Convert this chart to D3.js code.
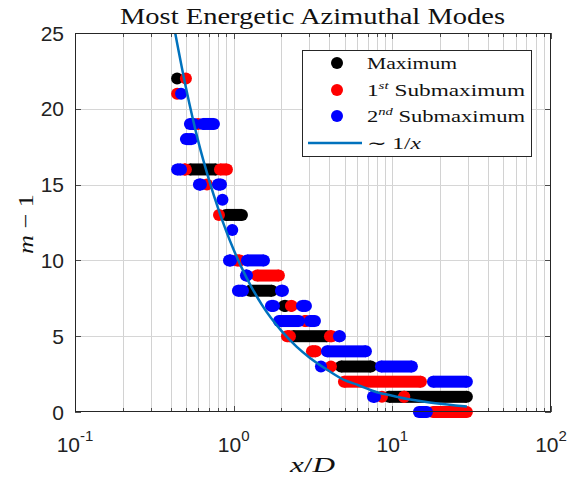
<!DOCTYPE html>
<html><head><meta charset="utf-8">
<script src="https://cdn.jsdelivr.net/npm/d3@7"></script>
<style>body{margin:0;background:#fff}svg{display:block}</style>
</head><body>
<svg id="chart" width="570" height="485"></svg>
<script>
// ---- data ----
// each segment: [m-1, xStart, xEnd] — runs of densely packed markers
const seriesNames = ["Maximum", "1st Submaximum", "2nd Submaximum"];
const maximumSegs = [
  [22, 0.44, 0.44], [16, 0.53, 0.774], [13, 0.894, 1.128], [8, 1.267, 1.743],
  [7, 2.074, 2.136], [5, 2.364, 3.872], [3, 4.745, 7.331], [1, 9.52, 29.5]
];
const submax1Segs = [
  [22, 0.50, 0.50], [21, 0.44, 0.44], [19, 0.596, 0.596], [16, 0.486, 0.50], [16, 0.82, 0.907],
  [15, 0.679, 0.679], [13, 0.808, 0.808], [10, 1.049, 1.096], [9, 1.402, 1.929],
  [7, 2.296, 2.33], [6, 2.813, 2.855], [5, 2.167, 2.263], [5, 4.044, 4.163],
  [4, 3.114, 3.301], [3, 4.103, 4.103], [2, 4.955, 15.15], [1, 8.6, 8.6], [1, 11.83, 11.9],
  [0, 18.03, 29.5]
];
const submax2Segs = [
  [21, 0.466, 0.466], [19, 0.53, 0.562], [19, 0.64, 0.751], [18, 0.50, 0.546],
  [16, 0.44, 0.466], [15, 0.604, 0.622], [15, 0.796, 0.832], [14, 0.85, 0.85],
  [12, 0.98, 0.98], [10, 0.934, 0.962], [10, 1.213, 1.552], [9, 1.195, 1.213],
  [8, 1.064, 1.144], [8, 1.987, 2.045], [7, 1.718, 1.795], [7, 2.694, 2.855],
  [6, 1.929, 2.579], [6, 3.026, 3.253], [5, 4.609, 4.676], [4, 3.872, 6.818],
  [3, 3.549, 3.549], [3, 8.477, 13.29], [2, 18.03, 29.5], [1, 7.545, 7.77],
  [0, 14.71, 16.52]
];
// ~1/x reference curve, read points
const curveX = [0.428, 0.5, 0.6, 0.7, 0.8, 0.9, 1, 1.2, 1.5, 2, 2.5, 3, 4, 5, 6, 8, 10, 13, 16, 20, 25, 29.5];
const curveY = [25, 21.4, 17.8, 15.3, 13.4, 11.9, 10.7, 8.9, 7.1, 5.35, 4.3, 3.6, 2.7, 2.1, 1.8, 1.3, 1.07, 0.82, 0.67, 0.54, 0.43, 0.36];
const xTickExps = [-1, 0, 1, 2];
const yTicks = [0, 5, 10, 15, 20, 25];
const colors = ["#000000", "#ff0000", "#0000ff"];
const lineColor = "#0072BD";

// ---- layout ----
const L = 75, R = 551, T = 33, B = 412;
const svg = d3.select("#chart");
const x = d3.scaleLog().domain([0.1, 100]).range([L, R]);
const y = d3.scaleLinear().domain([0, 25]).range([B, T]);
const sans = "'Liberation Sans', Arial, Helvetica, sans-serif";
const serif = "'Liberation Serif', 'Times New Roman', serif";
const axisColor = "#262626";

// minor positions
const minorVals = [];
for (let e = -1; e <= 1; e++) for (let k = 1; k <= 9; k++) minorVals.push(k * Math.pow(10, e));
minorVals.push(100);

// grid
const grid = svg.append("g");
grid.selectAll("line.v").data(minorVals.filter(v => v > 0.1 && v < 100)).join("line")
  .attr("x1", d => Math.round(x(d)) + 0.5).attr("x2", d => Math.round(x(d)) + 0.5)
  .attr("y1", T).attr("y2", B).attr("stroke", "#d2d2d2").attr("stroke-width", 1);
grid.selectAll("line.h").data(yTicks.filter(v => v > 0 && v < 25)).join("line")
  .attr("x1", L).attr("x2", R)
  .attr("y1", d => Math.round(y(d)) + 0.5).attr("y2", d => Math.round(y(d)) + 0.5)
  .attr("stroke", "#d6d6d6").attr("stroke-width", 1);

// ticks (inward, all four sides)
const ticks = svg.append("g").attr("stroke", axisColor).attr("stroke-width", 0.8);
minorVals.forEach(v => {
  const px = Math.round(x(v)) + 0.5;
  const len = [0.1, 1, 10, 100].includes(v) ? 6 : 4;
  ticks.append("line").attr("x1", px).attr("x2", px).attr("y1", B).attr("y2", B - len);
  ticks.append("line").attr("x1", px).attr("x2", px).attr("y1", T).attr("y2", T + len);
});
yTicks.forEach(v => {
  const py = Math.round(y(v)) + 0.5;
  ticks.append("line").attr("x1", L).attr("x2", L + 6).attr("y1", py).attr("y2", py);
  ticks.append("line").attr("x1", R).attr("x2", R - 6).attr("y1", py).attr("y2", py);
});

// markers
const R0 = 6;
const marks = svg.append("g");
[maximumSegs, submax1Segs, submax2Segs].forEach((segs, i) => {
  const g = marks.append("g").attr("fill", colors[i]);
  segs.forEach(([m, a, b]) => {
    const cy = y(m), x0 = x(a), x1 = x(b);
    g.append("circle").attr("cx", x0).attr("cy", cy).attr("r", R0);
    if (x1 > x0) {
      g.append("rect").attr("x", x0).attr("y", cy - R0).attr("width", x1 - x0).attr("height", 2 * R0);
      g.append("circle").attr("cx", x1).attr("cy", cy).attr("r", R0);
    }
  });
});

// curve
svg.append("defs").append("clipPath").attr("id", "clip")
  .append("rect").attr("x", L).attr("y", T).attr("width", R - L).attr("height", B - T);
const curvePts = curveX.map((v, i) => [v, curveY[i]]);
svg.append("path").datum(curvePts)
  .attr("clip-path", "url(#clip)")
  .attr("d", d3.line().x(d => x(d[0])).y(d => y(d[1])).curve(d3.curveMonotoneX))
  .attr("fill", "none").attr("stroke", lineColor).attr("stroke-width", 2.5);

// axes box
svg.append("rect").attr("x", L + 0.5).attr("y", T + 0.5).attr("width", R - L - 1).attr("height", B - T - 1)
  .attr("fill", "none").attr("stroke", axisColor).attr("stroke-width", 1);

// tick labels
xTickExps.forEach(e => {
  const t = svg.append("text").attr("x", x(Math.pow(10, e))).attr("y", 452)
    .attr("text-anchor", "middle").attr("font-family", sans).attr("font-size", 21).attr("fill", "#222");
  t.append("tspan").text("10");
  t.append("tspan").attr("font-size", 15).attr("dy", -11).text(e < 0 ? "-" + (-e) : String(e));
});
yTicks.forEach(v => {
  svg.append("text").attr("x", 64).attr("y", y(v) + 7.5).attr("text-anchor", "end")
    .attr("font-family", sans).attr("font-size", 21).attr("fill", "#222").text(v);
});

// title
svg.append("text").attr("x", 120).attr("y", 24)
  .attr("font-family", serif).attr("font-size", 23).attr("fill", "#111")
  .attr("textLength", 385).attr("lengthAdjust", "spacingAndGlyphs")
  .text("Most Energetic Azimuthal Modes");

// x label
const xl = svg.append("text").attr("x", 290).attr("y", 472)
  .attr("font-family", serif).attr("font-size", 22).attr("fill", "#111")
  .attr("textLength", 45).attr("lengthAdjust", "spacingAndGlyphs");
xl.append("tspan").attr("font-style", "italic").text("x");
xl.append("tspan").text("/");
xl.append("tspan").attr("font-style", "italic").text("D");

// y label
const yl = svg.append("text").attr("transform", "translate(33,254) rotate(-90)")
  .attr("font-family", serif).attr("font-size", 22).attr("fill", "#111")
  .attr("textLength", 60).attr("lengthAdjust", "spacingAndGlyphs");
yl.append("tspan").attr("font-style", "italic").text("m");
yl.append("tspan").text(" \u2212 1");

// legend
const lg = svg.append("g");
lg.append("rect").attr("x", 302.5).attr("y", 50.5).attr("width", 229).attr("height", 106)
  .attr("fill", "#fff").attr("stroke", axisColor).attr("stroke-width", 1);
const rowsY = [63, 90, 116];
rowsY.forEach((ry, i) => {
  lg.append("circle").attr("cx", 337).attr("cy", ry).attr("r", R0).attr("fill", colors[i]);
});
lg.append("line").attr("x1", 308).attr("x2", 362).attr("y1", 143).attr("y2", 143)
  .attr("stroke", lineColor).attr("stroke-width", 2.5);
const fs = 17;
const mkText = (yy, len) => lg.append("text").attr("x", 367).attr("y", yy)
  .attr("font-family", serif).attr("font-size", fs).attr("fill", "#111")
  .attr("textLength", len).attr("lengthAdjust", "spacingAndGlyphs");
mkText(69, 90).text(seriesNames[0]);
const t1 = mkText(96, 158);
t1.append("tspan").text("1");
t1.append("tspan").attr("font-size", 11).attr("font-style", "italic").attr("dy", -7).text("st");
t1.append("tspan").attr("dy", 7).text(" Submaximum");
const t2 = mkText(122, 158);
t2.append("tspan").text("2");
t2.append("tspan").attr("font-size", 11).attr("font-style", "italic").attr("dy", -7).text("nd");
t2.append("tspan").attr("dy", 7).text(" Submaximum");
const t3 = mkText(149, 54);
t3.append("tspan").text("\u223C 1/");
t3.append("tspan").attr("font-style", "italic").text("x");
</script>
</body></html>
